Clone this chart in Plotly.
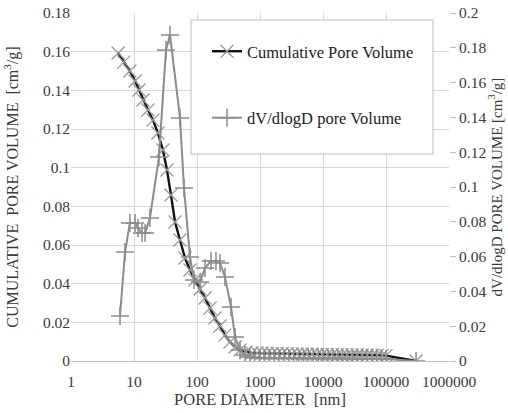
import plotly.graph_objects as go

# Cumulative pore volume (left axis, cm3/g) vs pore diameter (nm)
cum_d = [5.6, 6.9, 8.6, 10.4, 12.0, 13.9, 16.7, 20.0, 24.0, 28.8, 33.4, 38.6, 44.8, 53.7,
         64.5, 77.4, 92.9, 112, 134, 161, 193, 232, 278, 334, 401, 482, 600, 747,
         900, 1080, 1300, 1560, 1870, 2250, 2700, 3250, 3900, 4700, 5600, 6700, 8100,
         9700, 11600, 14000, 16800, 20200, 24200, 29000, 34800, 41800, 50200, 60200,
         72300, 86700, 100000, 300000]
cum_v = [0.1593, 0.1546, 0.1500, 0.1448, 0.1402, 0.1350, 0.1298, 0.1246, 0.1179, 0.1091,
         0.0988, 0.0859, 0.0719, 0.0626, 0.0533, 0.0471, 0.0419, 0.0372, 0.0326, 0.0274,
         0.0222, 0.0181, 0.0134, 0.0098, 0.0072, 0.0057, 0.0047, 0.0042,
         0.0041, 0.0040, 0.0040, 0.0039, 0.0039, 0.0038, 0.0038, 0.0037, 0.0037, 0.0036,
         0.0036, 0.0035, 0.0035, 0.0034, 0.0034, 0.0034, 0.0033, 0.0033, 0.0033, 0.0032,
         0.0032, 0.0031, 0.0031, 0.0030, 0.0030, 0.0029, 0.0028, 0.0]

# dV/dlogD pore volume (right axis, cm3/g)
dv_d = [6.0, 7.2, 8.6, 10.4, 11.6, 13.4, 15.0, 17.9, 24.9, 32.2, 37.3, 53.7, 62.2, 77.4,
        89.6, 112, 134, 167, 200, 232, 278, 347, 401, 482, 578, 694,
        820, 980, 1170, 1400, 1680, 2000, 2400, 2870, 3430, 4100, 4900, 5860, 7000,
        8370, 10000, 12000, 14300, 17100, 20400, 24400, 29200, 34900, 41700, 49800,
        59600, 71200, 85100, 100000, 300000]
dv_v = [0.0259, 0.0626, 0.0793, 0.0793, 0.0764, 0.0736, 0.0736, 0.0822, 0.1172, 0.1787,
        0.1874, 0.1397, 0.0994, 0.0598, 0.0466, 0.0454, 0.0534, 0.0575, 0.0575, 0.0563,
        0.0483, 0.0310, 0.0138, 0.0063, 0.0034, 0.0023,
        0.0019, 0.0018, 0.0018, 0.0017, 0.0017, 0.0017, 0.0016, 0.0016, 0.0016, 0.0016,
        0.0015, 0.0015, 0.0015, 0.0015, 0.0015, 0.0014, 0.0014, 0.0014, 0.0014, 0.0014,
        0.0013, 0.0013, 0.0013, 0.0013, 0.0012, 0.0012, 0.0012, 0.0011, 0.0]

x_ticks = [1, 10, 100, 1000, 10000, 100000, 1000000]
x_labels = ["1", "10", "100", "1000", "10000", "100000", "1000000"]
yl_ticks = [0, 0.02, 0.04, 0.06, 0.08, 0.1, 0.12, 0.14, 0.16, 0.18]
yl_labels = ["0", "0.02", "0.04", "0.06", "0.08", "0.1", "0.12", "0.14", "0.16", "0.18"]
yr_ticks = [0, 0.02, 0.04, 0.06, 0.08, 0.1, 0.12, 0.14, 0.16, 0.18, 0.2]
yr_labels = ["0", "0.02", "0.04", "0.06", "0.08", "0.1", "0.12", "0.14", "0.16", "0.18", "0.2"]

FONT = "Liberation Serif"
TXT = "#3a3a3a"
GRID = "#d9d9d9"

fig = go.Figure()
fig.add_trace(go.Scatter(
    x=cum_d, y=cum_v, name="Cumulative Pore Volume", mode="lines+markers",
    line=dict(color="#111111", width=2.4),
    marker=dict(symbol="x-thin", size=13, color="#999999",
                line=dict(color="#999999", width=1.3)),
    legendgroup="a", yaxis="y"))
fig.add_trace(go.Scatter(
    x=dv_d, y=dv_v, name="dV/dlogD pore Volume", mode="lines+markers",
    line=dict(color="#8c8c8c", width=2),
    marker=dict(symbol="cross-thin", size=13, color="#8c8c8c",
                line=dict(color="#8c8c8c", width=1.5)),
    legendgroup="b", yaxis="y2"))

fig.add_shape(type="rect", xref="paper", yref="paper",
              x0=(191 - 71) / 378, x1=(433 - 71) / 378,
              y0=(361 - 154) / 348, y1=(361 - 20) / 348,
              fillcolor="white", line=dict(color="#bfbfbf", width=1), layer="above")

fig.update_layout(
    width=508, height=413,
    margin=dict(l=71, r=59, t=13, b=52, autoexpand=False),
    paper_bgcolor="white", plot_bgcolor="white",
    font=dict(family=FONT, size=16, color=TXT),
    showlegend=True,
    legend=dict(x=(207 - 71) / 378, y=(361 - 34) / 348, xanchor="left", yanchor="top",
                bgcolor="rgba(0,0,0,0)", borderwidth=0, tracegroupgap=42,
                font=dict(family=FONT, size=16.5, color="#222222")),
    xaxis=dict(type="log", range=[0, 6], tickvals=x_ticks, ticktext=x_labels,
               showgrid=True, gridcolor=GRID, gridwidth=1, showline=True,
               linecolor="#bfbfbf", ticks="", zeroline=False, automargin=False,
               ticklabelstandoff=6,
               tickfont=dict(family=FONT, size=15.5, color=TXT),
               title=dict(text="PORE DIAMETER  [nm]", standoff=2,
                          font=dict(family=FONT, size=16.5, color=TXT))),
    yaxis=dict(range=[0, 0.18], tickvals=yl_ticks, ticktext=yl_labels,
               showgrid=True, gridcolor=GRID, gridwidth=1, showline=False,
               zeroline=False, ticks="", automargin=False,
               tickfont=dict(family=FONT, size=15.5, color=TXT),
               title=dict(text="CUMULATIVE  PORE VOLUME  [cm<sup>3</sup>/g]", standoff=20,
                          font=dict(family=FONT, size=16, color=TXT))),
    yaxis2=dict(range=[0, 0.2], tickvals=yr_ticks, ticktext=yr_labels,
                overlaying="y", side="right", showgrid=False, zeroline=False,
                showline=False, ticks="outside", ticklen=6, tickcolor="#bfbfbf",
                automargin=False,
                tickfont=dict(family=FONT, size=15.5, color=TXT),
                title=dict(text="dV/dlogD PORE VOLUME [cm<sup>3</sup>/g]", standoff=5,
                           font=dict(family=FONT, size=15, color=TXT))),
)

fig.write_html("out.html", config={"displayModeBar": False},
               post_script="document.body.style.margin='0';")
